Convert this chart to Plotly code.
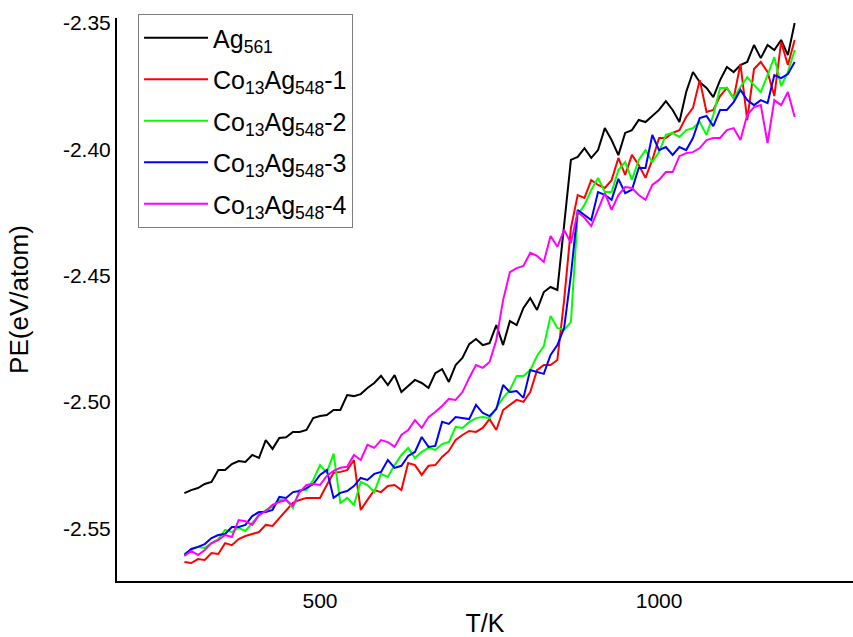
import plotly.graph_objects as go

T = list(range(300, 1201, 10))

ag561 = [-2.5361, -2.5349, -2.5341, -2.5325, -2.5317, -2.5270, -2.5270, -2.5246, -2.5234, -2.5238,
         -2.5210, -2.5222, -2.5151, -2.5186, -2.5143, -2.5140, -2.5119, -2.5119, -2.5111, -2.5064,
         -2.5056, -2.5052, -2.5032, -2.5032, -2.4973, -2.4977, -2.4969, -2.4945, -2.4925, -2.4897,
         -2.4933, -2.4894, -2.4961, -2.4937, -2.4913, -2.4925, -2.4945, -2.4886, -2.4870, -2.4921,
         -2.4854, -2.4826, -2.4771, -2.4751, -2.4775, -2.4767, -2.4696, -2.4775, -2.4680, -2.4696,
         -2.4628, -2.4589, -2.4636, -2.4565, -2.4545, -2.4557, -2.4300, -2.4042, -2.4030, -2.3995,
         -2.4034, -2.4003, -2.3916, -2.3963, -2.4023, -2.3935, -2.3924, -2.3884, -2.3892, -2.3868,
         -2.3844, -2.3809, -2.3844, -2.3892, -2.3773, -2.3694, -2.3734, -2.3757, -2.3793, -2.3726,
         -2.3674, -2.3694, -2.3666, -2.3654, -2.3587, -2.3639, -2.3587, -2.3607, -2.3567, -2.3627,
         -2.3500]

co_1 = [-2.5634, -2.5638, -2.5622, -2.5626, -2.5598, -2.5602, -2.5559, -2.5567, -2.5543, -2.5531,
        -2.5523, -2.5515, -2.5487, -2.5491, -2.5460, -2.5428, -2.5400, -2.5388, -2.5380, -2.5380,
        -2.5380, -2.5329, -2.5281, -2.5277, -2.5270, -2.5230, -2.5428, -2.5388, -2.5349, -2.5357,
        -2.5333, -2.5329, -2.5349, -2.5242, -2.5250, -2.5289, -2.5253, -2.5250, -2.5218, -2.5194,
        -2.5151, -2.5131, -2.5115, -2.5119, -2.5103, -2.5068, -2.5111, -2.5032, -2.5012, -2.4992,
        -2.5000, -2.4961, -2.4874, -2.4854, -2.4854, -2.4834, -2.4597, -2.4312, -2.4181, -2.4192,
        -2.4122, -2.4141, -2.4153, -2.4122, -2.4034, -2.4101, -2.4022, -2.4062, -2.4113, -2.4042,
        -2.3955, -2.3955, -2.3935, -2.3924, -2.3872, -2.3836, -2.3726, -2.3852, -2.3844, -2.3789,
        -2.3757, -2.3798, -2.3662, -2.3884, -2.3682, -2.3654, -2.3694, -2.3789, -2.3575, -2.3666,
        -2.3567]

co_2 = [-2.5602, -2.5586, -2.5574, -2.5578, -2.5559, -2.5543, -2.5507, -2.5515, -2.5499, -2.5511,
        -2.5479, -2.5448, -2.5428, -2.5416, -2.5388, -2.5388, -2.5420, -2.5349, -2.5349, -2.5309,
        -2.5250, -2.5280, -2.5205, -2.5400, -2.5380, -2.5408, -2.5317, -2.5329, -2.5357, -2.5285,
        -2.5297, -2.5250, -2.5210, -2.5182, -2.5222, -2.5198, -2.5182, -2.5190, -2.5167, -2.5159,
        -2.5099, -2.5103, -2.5080, -2.5064, -2.5060, -2.5064, -2.5024, -2.4984, -2.4953, -2.4897,
        -2.4897, -2.4874, -2.4818, -2.4779, -2.4660, -2.4707, -2.4715, -2.4684, -2.4260, -2.4220,
        -2.4161, -2.4113, -2.4169, -2.4169, -2.4082, -2.4050, -2.4121, -2.4042, -2.4003, -2.4050,
        -2.4011, -2.3943, -2.3935, -2.3951, -2.3924, -2.3916, -2.3892, -2.3943, -2.3864, -2.3757,
        -2.3757, -2.3797, -2.3753, -2.3714, -2.3746, -2.3773, -2.3706, -2.3635, -2.3749, -2.3694,
        -2.3607]

co_3 = [-2.5606, -2.5582, -2.5574, -2.5563, -2.5539, -2.5527, -2.5523, -2.5495, -2.5495, -2.5487,
        -2.5452, -2.5436, -2.5436, -2.5428, -2.5376, -2.5380, -2.5357, -2.5353, -2.5341, -2.5325,
        -2.5289, -2.5269, -2.5380, -2.5360, -2.5353, -2.5333, -2.5301, -2.5309, -2.5285, -2.5277,
        -2.5230, -2.5261, -2.5253, -2.5214, -2.5198, -2.5139, -2.5178, -2.5174, -2.5079, -2.5087,
        -2.5060, -2.5064, -2.5068, -2.5012, -2.5044, -2.5056, -2.5028, -2.4933, -2.4961, -2.4957,
        -2.4984, -2.4874, -2.4882, -2.4889, -2.4814, -2.4775, -2.4707, -2.4498, -2.4240, -2.4259,
        -2.4280, -2.4169, -2.4180, -2.4200, -2.4117, -2.4173, -2.4160, -2.4074, -2.4074, -2.3943,
        -2.4003, -2.3991, -2.4022, -2.3991, -2.4003, -2.3955, -2.3876, -2.3868, -2.3908, -2.3844,
        -2.3844, -2.3813, -2.3765, -2.3805, -2.3825, -2.3805, -2.3817, -2.3706, -2.3718, -2.3702,
        -2.3654]

co_4 = [-2.5610, -2.5590, -2.5606, -2.5586, -2.5559, -2.5547, -2.5527, -2.5535, -2.5468, -2.5472,
        -2.5487, -2.5448, -2.5432, -2.5408, -2.5396, -2.5388, -2.5412, -2.5357, -2.5329, -2.5325,
        -2.5329, -2.5293, -2.5273, -2.5261, -2.5257, -2.5210, -2.5230, -2.5170, -2.5182, -2.5151,
        -2.5159, -2.5178, -2.5131, -2.5111, -2.5072, -2.5103, -2.5060, -2.5040, -2.5016, -2.4988,
        -2.4992, -2.4961, -2.4905, -2.4854, -2.4865, -2.4842, -2.4755, -2.4597, -2.4486, -2.4470,
        -2.4462, -2.4410, -2.4422, -2.4446, -2.4343, -2.4386, -2.4319, -2.4371, -2.4248, -2.4271,
        -2.4304, -2.4240, -2.4173, -2.4240, -2.4181, -2.4149, -2.4153, -2.4181, -2.4200, -2.4141,
        -2.4121, -2.4090, -2.4090, -2.4027, -2.4015, -2.4011, -2.3995, -2.3963, -2.3955, -2.3955,
        -2.3924, -2.3916, -2.3963, -2.3864, -2.3833, -2.3825, -2.3975, -2.3805, -2.3825, -2.3773,
        -2.3872]

names = ["Ag<sub>561</sub>",
         "Co<sub>13</sub>Ag<sub>548</sub>-1",
         "Co<sub>13</sub>Ag<sub>548</sub>-2",
         "Co<sub>13</sub>Ag<sub>548</sub>-3",
         "Co<sub>13</sub>Ag<sub>548</sub>-4"]
series = [ag561, co_1, co_2, co_3, co_4]
colors = ["#000000", "#ff0000", "#00ff00", "#0000ff", "#ff00ff"]

y_ticks = [-2.35, -2.40, -2.45, -2.50, -2.55]
y_ticktext = ["-2.35", "-2.40", "-2.45", "-2.50", "-2.55"]
x_ticks = [500, 1000]
x_ticktext = ["500", "1000"]

fig = go.Figure()
for i, (nm, ys, c) in enumerate(zip(names, series, colors)):
    fig.add_trace(go.Scatter(x=T, y=ys, mode="lines", name=nm,
                             legendgroup=f"g{i}",
                             line=dict(color=c, width=2)))

font_family = "Liberation Sans, Arial, sans-serif"
fig.update_layout(
    width=853, height=637,
    margin=dict(l=117, r=0, t=18, b=56),
    paper_bgcolor="white", plot_bgcolor="white",
    font=dict(family=font_family, color="black", size=20),
    showlegend=True,
    legend=dict(x=0.0286, y=1.007, xanchor="left", yanchor="top",
                bordercolor="#7f7f7f", borderwidth=1, bgcolor="white",
                font=dict(size=25, family=font_family),
                itemwidth=64, tracegroupgap=6),
    xaxis=dict(range=[200.6, 1286], tickvals=x_ticks, ticktext=x_ticktext,
               showline=True, automargin=False,
               linecolor="black", linewidth=2, showgrid=False, zeroline=False,
               ticks="", tickfont=dict(size=21),
               title=dict(text="T/K", font=dict(size=25), standoff=6)),
    yaxis=dict(range=[-2.5709, -2.348], tickvals=y_ticks, ticktext=y_ticktext,
               showline=True, automargin=False, linecolor="black", linewidth=2,
               showgrid=False, zeroline=False, ticks="", tickfont=dict(size=21),
               title=dict(text="PE(eV/atom)", font=dict(size=26), standoff=27)),
)

fig.write_html("out.html",
               config={"displayModeBar": False},
               post_script="document.body.style.margin='0';document.body.style.overflow='hidden';")
